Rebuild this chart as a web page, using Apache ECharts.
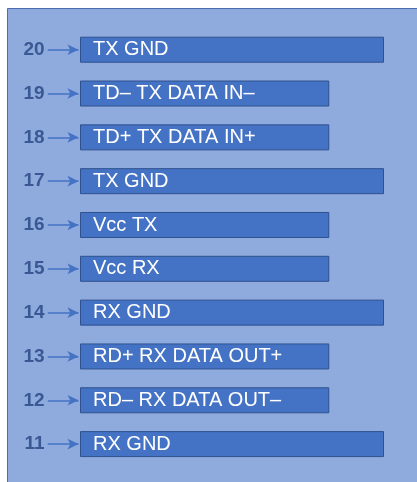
<!DOCTYPE html>
<html>
<head>
<meta charset="utf-8">
<script src="https://cdn.jsdelivr.net/npm/echarts@6/dist/echarts.min.js"></script>
<style>html,body{margin:0;padding:0;background:#fff}#c{width:417px;height:482px}</style>
</head>
<body>
<div id="c"></div>
<script>
const pins = ['20','19','18','17','16','15','14','13','12','11'];
const names = ['TX GND','TD– TX DATA IN–','TD+ TX DATA IN+','TX GND','Vcc TX','Vcc RX','RX GND','RD+ RX DATA OUT+','RD– RX DATA OUT–','RX GND'];
const lengths = [100, 82, 82, 100, 82, 82, 100, 82, 82, 100];

const chart = echarts.init(document.getElementById('c'), null, {renderer:'canvas'});
const font = 'Liberation Sans, Arial, sans-serif';
chart.setOption({
  animation: false,
  backgroundColor: '#ffffff',
  graphic: [{
    type: 'rect', z: -10,
    shape: {x: 7.5, y: 8.5, width: 420, height: 480},
    style: {fill: '#8faadc', stroke: '#4a6db0', lineWidth: 1}
  }],
  grid: {left: 46.56, width: 367.84, top: 27.8, height: 438.2, containLabel: false},
  xAxis: {type: 'value', min: -11, max: 110, show: false},
  yAxis: {
    type: 'category', data: pins, inverse: true,
    axisLine: {show: false}, axisTick: {show: false}, splitLine: {show: false},
    axisLabel: {margin: 2, fontSize: 19, fontWeight: 'bold', color: '#3a5894', fontFamily: font}
  },
  series: [{
    type: 'bar',
    data: lengths.map((v, i) => ({value: v, name: names[i]})),
    barWidth: 26,
    itemStyle: {color: '#4472c4', borderColor: '#2f528f', borderWidth: 1},
    label: {
      show: true, position: 'insideLeft', distance: 13,
      formatter: p => names[p.dataIndex],
      color: '#ffffff', fontSize: 20, fontFamily: font
    },
    markLine: {
      silent: true,
      symbol: ['none', 'arrow'],
      symbolSize: [8, 11],
      label: {show: false},
      lineStyle: {color: '#4472c4', width: 1.5, type: 'solid'},
      data: pins.map(p => [{coord: [-10.6, p]}, {coord: [-0.5, p]}])
    }
  }]
});
</script>
</body>
</html>
